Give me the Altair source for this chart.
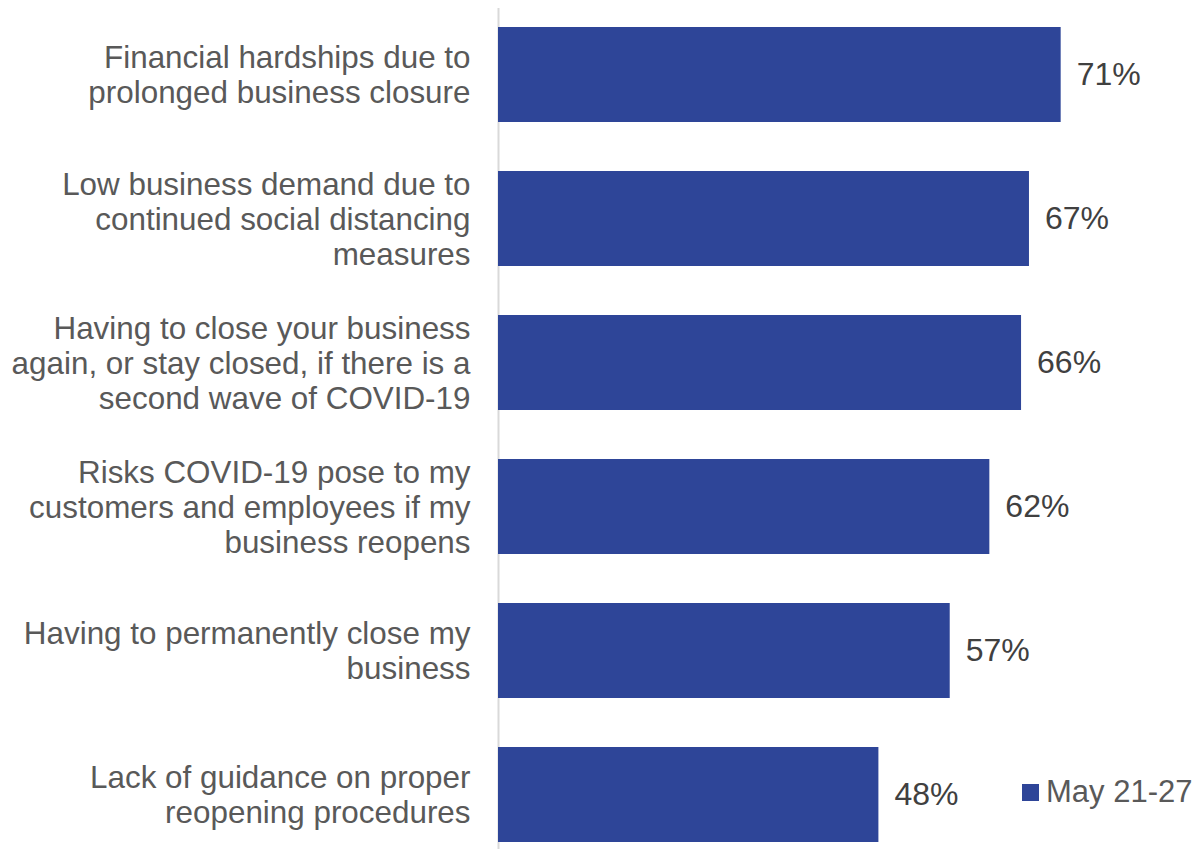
import altair as alt
import pandas as pd

categories = [
    "Financial hardships due to|prolonged business closure",
    "Low business demand due to|continued social distancing|measures",
    "Having to close your business|again, or stay closed, if there is a|second wave of COVID-19",
    "Risks COVID-19 pose to my|customers and employees if my|business reopens",
    "Having to permanently close my|business",
    "Lack of guidance on proper|reopening procedures",
]
values = [71, 67, 66, 62, 57, 48]
series = ["May 21-27"] * len(values)

df = pd.DataFrame({"category": categories, "value": values, "series": series})
df["label"] = [f"{v}%" for v in values]

BAR = "#2E4598"
FONT = "Liberation Sans"
FS = 32

base = alt.Chart(df).encode(
    y=alt.Y(
        "category:N",
        sort=categories,
        title=None,
        scale=alt.Scale(paddingInner=0.34, paddingOuter=0.17),
        axis=alt.Axis(
            labelExpr="split(datum.label, '|')",
            labelFontSize=31.4,
            labelFont=FONT,
            labelColor="#595959",
            labelLineHeight=35,
            labelPadding=28,
            labelLimit=600,
            labelOffset={
                "condition": {
                    "test": "length(split(datum.value, '|')) == 3",
                    "value": -33,
                },
                "value": -15.5,
            },
            ticks=False,
            domainColor="#D9D9D9",
            domainWidth=2,
            grid=False,
        ),
    ),
)

bars = base.mark_bar(color=BAR).encode(
    x=alt.X("value:Q", scale=alt.Scale(domain=[0, 80]), axis=None, title=None),
    color=alt.Color(
        "series:N",
        scale=alt.Scale(range=[BAR]),
        legend=alt.Legend(
            title=None,
            orient="none",
            legendX=517,
            legendY=774.5,
            symbolType="square",
            symbolSize=289,
            symbolStrokeWidth=0,
            labelFontSize=31,
            labelFont=FONT,
            labelColor="#595959",
            labelOffset=0,
        ),
    ),
)

text = base.mark_text(
    align="left", baseline="middle", dx=16, fontSize=FS,
    font=FONT, color="#404040"
).encode(
    x=alt.X("value:Q"),
    text="label:N",
)

chart = (
    alt.layer(bars, text)
    .properties(
        width=634,
        height=864,
        autosize=alt.AutoSizeParams(type="none"),
        padding={"left": 490, "top": -5.5, "right": 62, "bottom": -18},
    )
    .configure_view(stroke=None)
)

chart.save("out.html", embed_options={"renderer": "svg", "actions": False})
